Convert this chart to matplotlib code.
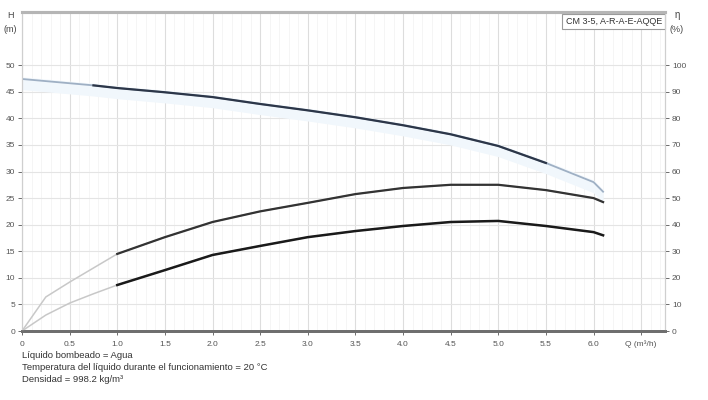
import numpy as np
import matplotlib.pyplot as plt
from matplotlib.ticker import MultipleLocator

plt.rcParams['font.family'] = ['Liberation Sans', 'DejaVu Sans']

# Datos (caudal en m3/h)
q = [0, 0.25, 0.5, 0.75, 1.0, 1.5, 2.0, 2.5, 3.0, 3.5, 4.0, 4.5, 5.0, 5.5, 6.0, 6.1]
altura = [47.4, 47.0, 46.6, 46.2, 45.7, 44.9, 44.0, 42.7, 41.5, 40.2, 38.7, 37.0, 34.8, 31.6, 28.0, 26.2]
eta_bomba = [0, 12.8, 18.4, 23.7, 29.0, 35.3, 41.0, 45.0, 48.2, 51.5, 53.8, 55.0, 55.0, 53.0, 50.0, 48.5]
eta_total = [0, 6.0, 10.5, 14.0, 17.3, 22.9, 28.6, 32.0, 35.3, 37.6, 39.5, 41.0, 41.4, 39.5, 37.2, 36.0]

x_ticks = [0, 0.5, 1.0, 1.5, 2.0, 2.5, 3.0, 3.5, 4.0, 4.5, 5.0, 5.5, 6.0, 6.5]
x_labels = ['0', '0.5', '1.0', '1.5', '2.0', '2.5', '3.0', '3.5', '4.0', '4.5',
            '5.0', '5.5', '6.0', 'Q (m³/h)']
h_ticks = [0, 5, 10, 15, 20, 25, 30, 35, 40, 45, 50]
eta_ticks = [0, 10, 20, 30, 40, 50, 60, 70, 80, 90, 100]

producto = 'CM 3-5, A-R-A-E-AQQE'
notas = ['Líquido bombeado = Agua',
         'Temperatura del líquido durante el funcionamiento = 20 °C',
         'Densidad = 998.2 kg/m³']

fig = plt.figure(figsize=(7.08, 4.0), dpi=100)
ax = fig.add_axes([22 / 708, 1 - 331 / 400, (665 - 22) / 708, (331 - 12) / 400])
ax2 = ax.twinx()

ax.set_xlim(0, 6.75)
ax.set_ylim(0, 60)
ax2.set_ylim(0, 120)

# rejilla
ax.xaxis.set_minor_locator(MultipleLocator(0.1))
ax.grid(which='minor', axis='x', color='#f4f4f4', lw=0.6)
ax.grid(which='major', axis='x', color='#dddddd', lw=0.8)
ax.grid(which='major', axis='y', color='#e4e4e4', lw=0.8)
ax.set_axisbelow(True)

qa = np.array(q)

# franja azul muy suave bajo la curva H
ax.fill_between(q, np.array(altura) - 2.0, np.array(altura) + 0.4,
                color='#f1f7fc', lw=0)

# curva H
ax.plot(q, altura, color='#9fb0c4', lw=1.3)
m = (qa >= 0.75) & (qa <= 5.6)
ax.plot(qa[m], np.array(altura)[m], color='#2c3648', lw=1.6)

# curvas de rendimiento
ax2.plot(q, eta_bomba, color='#c8c8c8', lw=1.1)
ax2.plot(q, eta_total, color='#c8c8c8', lw=1.1)
m2 = qa >= 1.0
ax2.plot(qa[m2], np.array(eta_bomba)[m2], color='#333333', lw=1.6)
ax2.plot(qa[m2], np.array(eta_total)[m2], color='#1a1a1a', lw=1.8)

# ejes
ax.set_xticks(x_ticks)
ax.set_xticklabels(x_labels)
ax.set_yticks(h_ticks)
ax2.set_yticks(eta_ticks)
for a in (ax, ax2):
    a.tick_params(labelsize=6, colors='#555555', length=3, width=0.6, pad=2)
    a.tick_params(which='minor', length=0)
    a.spines['top'].set_color('#b5b5b5')
    a.spines['top'].set_linewidth(2.2)
    a.spines['bottom'].set_color('#6e6e6e')
    a.spines['bottom'].set_linewidth(2.0)
    a.spines['left'].set_color('#cfcfcf')
    a.spines['right'].set_color('#cfcfcf')
ax.tick_params(axis='x', pad=4)

fig.text(10 / 708, 1 - 15 / 400, 'H', fontsize=6.5, color='#444444', ha='center', va='center')
fig.text(10 / 708, 1 - 30 / 400, '(m)', fontsize=6.5, color='#444444', ha='center', va='center')
fig.text(677 / 708, 1 - 15 / 400, 'η', fontsize=7, color='#444444', ha='center', va='center')
fig.text(677 / 708, 1 - 29 / 400, '(%)', fontsize=6.5, color='#444444', ha='center', va='center')

ax.text(0.995, 0.985, producto, transform=ax.transAxes, ha='right', va='top',
        fontsize=6.5, color='#333333',
        bbox=dict(boxstyle='square,pad=0.35', fc='white', ec='#9a9a9a', lw=0.8))

for i, t in enumerate(notas):
    fig.text(22 / 708, 1 - (355 + i * 12) / 400, t, fontsize=6.8,
             color='#333333', va='center')

fig.savefig('out.png', dpi=100)
